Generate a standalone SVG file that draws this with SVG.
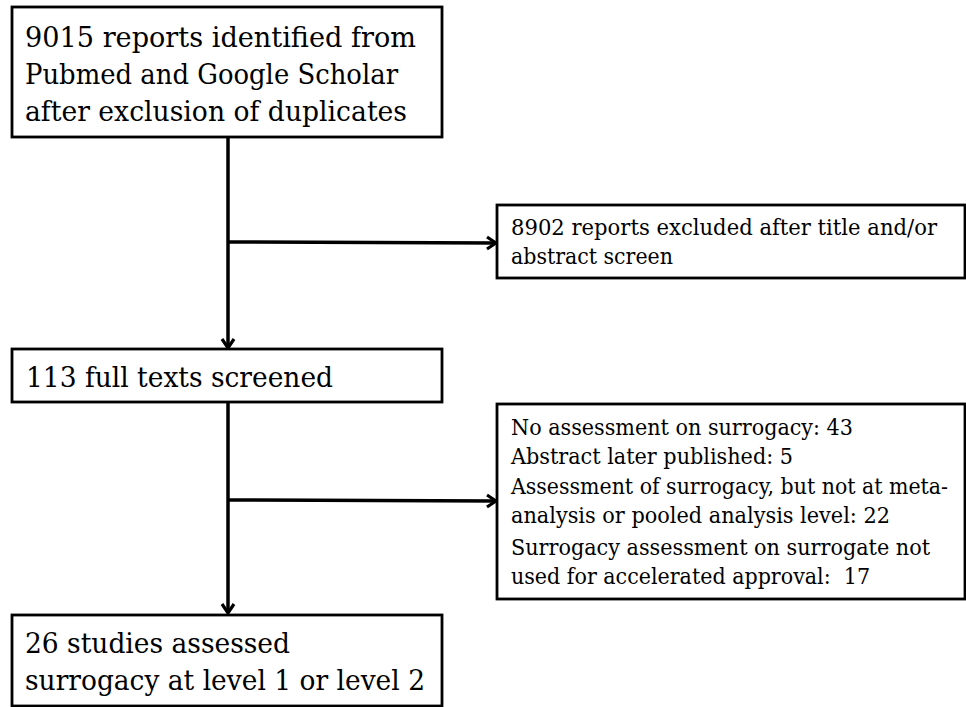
<svg xmlns="http://www.w3.org/2000/svg" width="966" height="707" viewBox="0 0 966 707">
<style>
.box{fill:#fff;stroke:#000;stroke-width:2.8}
.big{font-family:"DejaVu Serif","Liberation Serif",serif;font-size:28.5px;fill:#000}
.small{font-family:"DejaVu Serif","Liberation Serif",serif;font-size:21.5px;fill:#000}
.conn{stroke:#000;stroke-width:3.5;fill:none}
</style>
<defs>
<marker id="arr" viewBox="0 0 16 16" refX="14" refY="8" markerWidth="16" markerHeight="16" markerUnits="userSpaceOnUse" orient="auto">
<polyline points="5,2 14,8 5,14" fill="none" stroke="#000" stroke-width="3.2" stroke-linejoin="miter"/>
</marker>
</defs>
<rect width="966" height="707" fill="#fff"/>
<g id="connectors">
<line class="conn" x1="228" y1="137" x2="228" y2="348" marker-end="url(#arr)"/>
<line class="conn" x1="228" y1="242" x2="496" y2="243" marker-end="url(#arr)"/>
<line class="conn" x1="228" y1="402" x2="228" y2="613" marker-end="url(#arr)"/>
<line class="conn" x1="228" y1="500" x2="496" y2="501" marker-end="url(#arr)"/>
</g>
<g id="n1">
<rect class="box" x="12" y="7" width="430" height="130"/>
<text class="big" x="25" y="47" textLength="391" lengthAdjust="spacingAndGlyphs">9015 reports identified from</text>
<text class="big" x="25" y="84" textLength="373" lengthAdjust="spacingAndGlyphs">Pubmed and Google Scholar</text>
<text class="big" x="25" y="121" textLength="382" lengthAdjust="spacingAndGlyphs">after exclusion of duplicates</text>
</g>
<g id="n2">
<rect class="box" x="497" y="205" width="468" height="73"/>
<text class="small" x="511" y="235" textLength="426" lengthAdjust="spacingAndGlyphs">8902 reports excluded after title and/or</text>
<text class="small" x="511" y="264" textLength="162" lengthAdjust="spacingAndGlyphs">abstract screen</text>
</g>
<g id="n3">
<rect class="box" x="12" y="349" width="430" height="53"/>
<text class="big" x="26" y="387" textLength="307" lengthAdjust="spacingAndGlyphs">113 full texts screened</text>
</g>
<g id="n4">
<rect class="box" x="497" y="404" width="468" height="195"/>
<text class="small" x="511" y="435" textLength="342" lengthAdjust="spacingAndGlyphs">No assessment on surrogacy: 43</text>
<text class="small" x="511" y="464" textLength="282" lengthAdjust="spacingAndGlyphs">Abstract later published: 5</text>
<text class="small" x="511" y="494" textLength="437" lengthAdjust="spacingAndGlyphs">Assessment of surrogacy, but not at meta-</text>
<text class="small" x="511" y="523" textLength="379" lengthAdjust="spacingAndGlyphs">analysis or pooled analysis level: 22</text>
<text class="small" x="511" y="555" textLength="419" lengthAdjust="spacingAndGlyphs">Surrogacy assessment on surrogate not</text>
<text class="small" x="511" y="584" textLength="359" lengthAdjust="spacingAndGlyphs" xml:space="preserve">used for accelerated approval:  17</text>
</g>
<g id="n5">
<rect class="box" x="12" y="615" width="430" height="91"/>
<text class="big" x="25" y="653" textLength="265" lengthAdjust="spacingAndGlyphs">26 studies assessed</text>
<text class="big" x="25" y="690" textLength="400" lengthAdjust="spacingAndGlyphs">surrogacy at level 1 or level 2</text>
</g>
</svg>
